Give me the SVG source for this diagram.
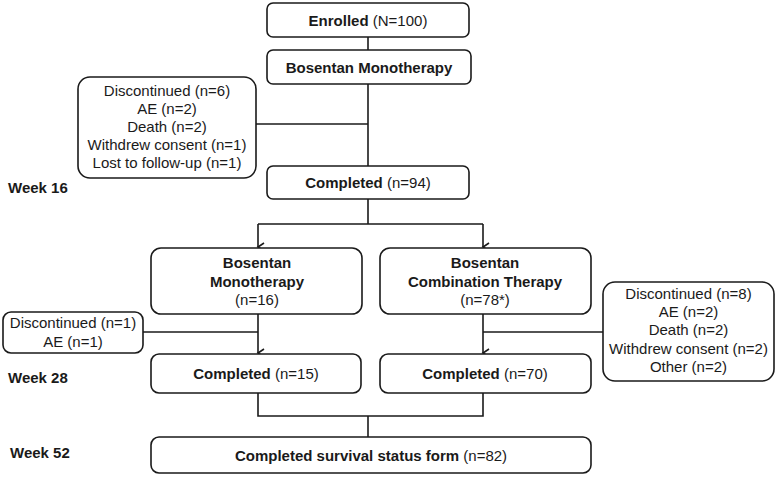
<svg xmlns="http://www.w3.org/2000/svg" width="779" height="477" viewBox="0 0 779 477">
<style>
.box{fill:#fff;stroke:#1a1a1a;stroke-width:1.6}
.ln{fill:none;stroke:#1a1a1a;stroke-width:1.6}
text{font-family:"Liberation Sans",Arial,sans-serif;font-size:15px;fill:#1a1a1a;text-anchor:middle}
.b{font-weight:bold}
.wk{font-weight:bold;text-anchor:start}
</style>
<defs>
<marker id="arr" markerWidth="12" markerHeight="12" refX="6" refY="10" orient="auto" markerUnits="userSpaceOnUse" viewBox="0 0 12 12">
<path d="M2,4 L6,10 L10,4" fill="none" stroke="#1a1a1a" stroke-width="1.6"/>
</marker>
</defs>
<g id="connectors">
<path class="ln" d="M368,37 V50"/>
<path class="ln" d="M368,84 V166"/>
<path class="ln" d="M256,124 H368"/>
<path class="ln" d="M368,199 V224 M258,224 H483"/>
<path class="ln" d="M258,224 V247" marker-end="url(#arr)"/>
<path class="ln" d="M483,224 V247" marker-end="url(#arr)"/>
<path class="ln" d="M258,314 V353" marker-end="url(#arr)"/>
<path class="ln" d="M143,332 H258"/>
<path class="ln" d="M483,314 V353" marker-end="url(#arr)"/>
<path class="ln" d="M483,332 H603"/>
<path class="ln" d="M258,393 V416 H483 V393"/>
<path class="ln" d="M368,416 V437"/>
</g>
<g id="enrolled">
<rect class="box" x="267" y="3" width="202" height="34" rx="6"/>
<text x="368" y="25.5"><tspan class="b">Enrolled</tspan> (N=100)</text>
</g>
<g id="mono1">
<rect class="box" x="267" y="50" width="204" height="34" rx="6"/>
<text x="369" y="72.5" class="b">Bosentan Monotherapy</text>
</g>
<g id="disc1">
<rect class="box" x="78" y="77" width="178" height="101" rx="12"/>
<text x="167" y="96">Discontinued (n=6)</text>
<text x="167" y="114">AE (n=2)</text>
<text x="167" y="132">Death (n=2)</text>
<text x="167" y="150">Withdrew consent (n=1)</text>
<text x="167" y="168">Lost to follow-up (n=1)</text>
</g>
<g id="completed94">
<rect class="box" x="267" y="166" width="202" height="33" rx="6"/>
<text x="368" y="188"><tspan class="b">Completed</tspan> (n=94)</text>
</g>
<g id="week16"><text class="wk" x="8" y="193">Week 16</text></g>
<g id="mono2">
<rect class="box" x="151" y="248" width="211" height="66" rx="10"/>
<text x="257" y="268" class="b">Bosentan</text>
<text x="257" y="286.5" class="b">Monotherapy</text>
<text x="257" y="305">(n=16)</text>
</g>
<g id="combo">
<rect class="box" x="380" y="248" width="211" height="66" rx="10"/>
<text x="485" y="268" class="b">Bosentan</text>
<text x="485" y="286.5" class="b">Combination Therapy</text>
<text x="485" y="305">(n=78*)</text>
</g>
<g id="disc2">
<rect class="box" x="3" y="312" width="140" height="41" rx="8"/>
<text x="73" y="328">Discontinued (n=1)</text>
<text x="73" y="346.5">AE (n=1)</text>
</g>
<g id="disc3">
<rect class="box" x="603" y="282" width="171" height="99" rx="12"/>
<text x="688.5" y="299">Discontinued (n=8)</text>
<text x="688.5" y="317">AE (n=2)</text>
<text x="688.5" y="335">Death (n=2)</text>
<text x="688.5" y="353.5">Withdrew consent (n=2)</text>
<text x="688.5" y="371.5">Other (n=2)</text>
</g>
<g id="completed15">
<rect class="box" x="151" y="354" width="210" height="39" rx="8"/>
<text x="256" y="378.5"><tspan class="b">Completed</tspan> (n=15)</text>
</g>
<g id="completed70">
<rect class="box" x="380" y="354" width="211" height="39" rx="8"/>
<text x="485" y="378.5"><tspan class="b">Completed</tspan> (n=70)</text>
</g>
<g id="week28"><text class="wk" x="8" y="383">Week 28</text></g>
<g id="survival">
<rect class="box" x="151" y="437" width="440" height="36" rx="8"/>
<text x="371" y="460.5"><tspan class="b">Completed survival status form</tspan> (n=82)</text>
</g>
<g id="week52"><text class="wk" x="10" y="458">Week 52</text></g>
</svg>
